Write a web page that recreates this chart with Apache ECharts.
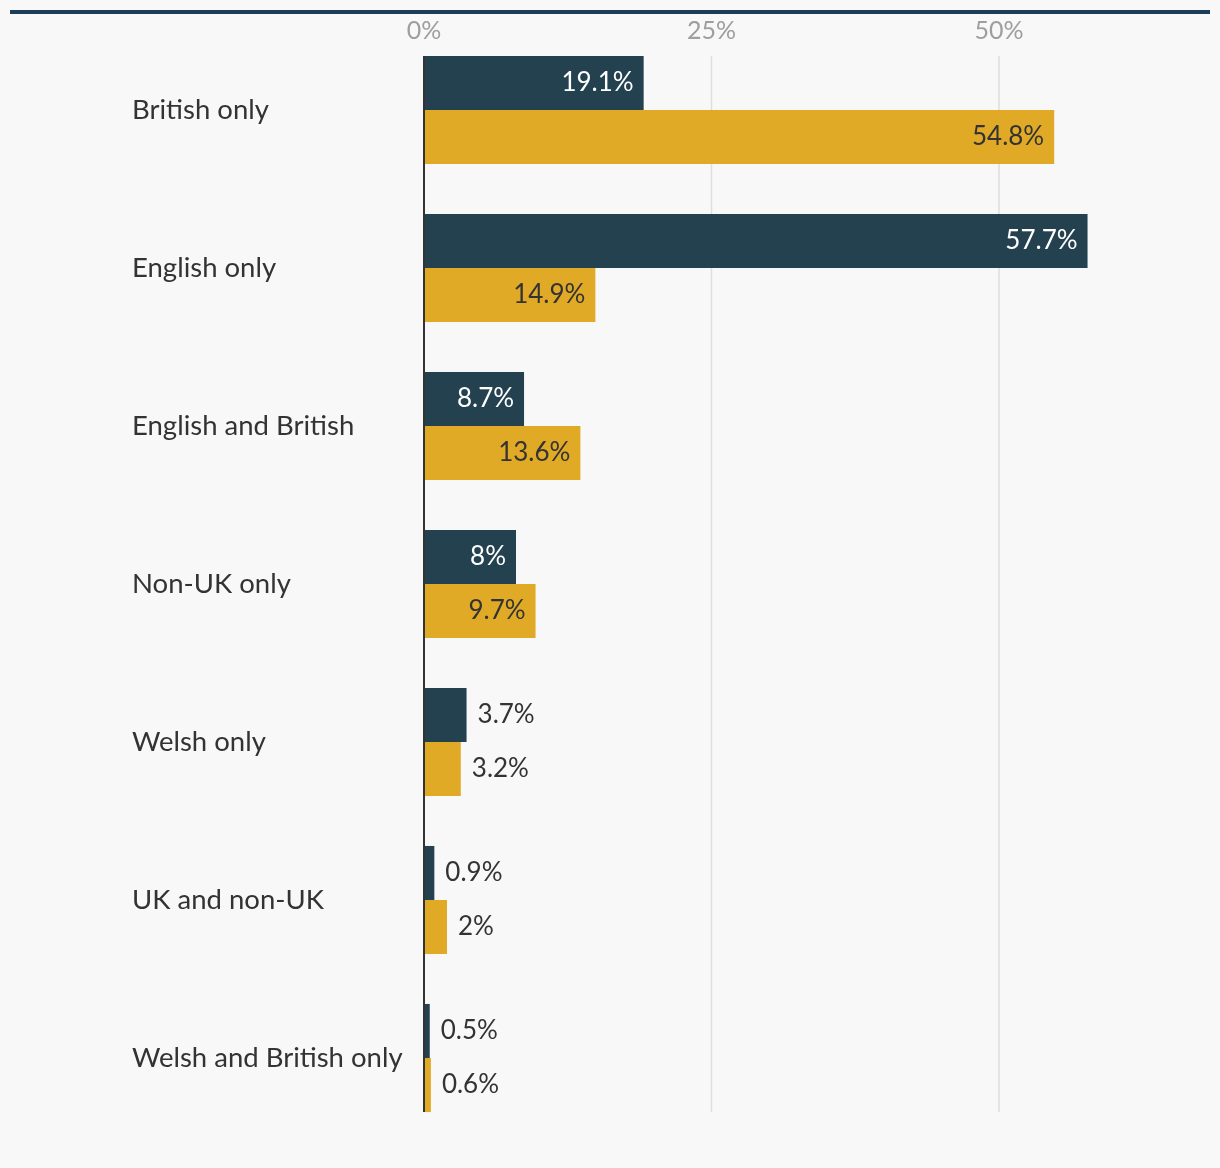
<!DOCTYPE html>
<html><head><meta charset="utf-8">
<script src="https://cdn.jsdelivr.net/npm/echarts@6/dist/echarts.min.js"></script>
<style>html,body{margin:0;padding:0;background:#f8f8f8}#c{width:1220px;height:1168px}</style>
</head><body><div id="c"></div>
<script>
const categories = ["British only","English only","English and British","Non-UK only","Welsh only","UK and non-UK","Welsh and British only"];
const seriesA = [19.1, 57.7, 8.7, 8, 3.7, 0.9, 0.5];
const seriesB = [54.8, 14.9, 13.6, 9.7, 3.2, 2, 0.6];
const xTicks = [0, 25, 50];
const xMax = 65;

const FONT = 'Lato';
const DARK = '#244150';
const GOLD = '#e0aa27';
const CAT_GAP = 0.316;

function labelFor(v, insideColor) {
  const inside = v >= 8;
  return {
    show: true,
    position: inside ? 'insideRight' : 'right',
    distance: inside ? 10 : 11,
    color: inside ? insideColor : '#333',
    fontSize: 26,
    fontFamily: FONT,
    padding: [4, 0, 0, 0],
    formatter: (p) => p.value + '%'
  };
}

function lineRenderer(isAxis) {
  return function (params, api) {
    const t = api.value(0);
    const x = api.coord([t, 0])[0];
    const band = api.size([0, 1])[1];
    const half = band * (1 - CAT_GAP) / 2;
    const y0 = api.coord([t, 0])[1] - half;
    const y1 = api.coord([t, categories.length - 1])[1] + half;
    if (isAxis && t !== 0) return null;
    if (!isAxis && t === 0) return null;
    return {
      type: 'line',
      shape: { x1: x, y1: y0, x2: x, y2: y1 },
      style: { stroke: isAxis ? '#333' : '#dedede', lineWidth: isAxis ? 2 : 1.5 }
    };
  };
}

const chart = echarts.init(document.getElementById('c'));
chart.setOption({
  backgroundColor: '#f8f8f8',
  animation: false,
  graphic: [{
    type: 'rect', left: 10, top: 10,
    shape: { width: 1200, height: 4 },
    style: { fill: '#1e3d59' }
  }],
  grid: { left: 424, width: xMax * 11.5, top: 31, bottom: 31, containLabel: false },
  xAxis: {
    type: 'value', position: 'top', min: 0, max: xMax, interval: 25,
    axisLine: { show: false }, axisTick: { show: false }, splitLine: { show: false },
    axisLabel: {
      showMaxLabel: false, margin: 0, verticalAlign: 'middle',
      color: '#9e9e9e', fontSize: 25, fontFamily: FONT,
      padding: [3, 0, 0, 0],
      formatter: (v) => xTicks.includes(v) ? v + '%' : ''
    }
  },
  yAxis: {
    type: 'category', data: categories, inverse: true,
    axisLine: { show: false }, axisTick: { show: false },
    axisLabel: { align: 'left', margin: 292, color: '#333', fontSize: 27.5, fontFamily: FONT, padding: [3, 0, 0, 0] }
  },
  series: [
    { type: 'custom', z: 1, renderItem: lineRenderer(false), data: xTicks.map(t => [t, 0]), encode: { x: 0, y: 1 }, silent: true },
    {
      type: 'bar', name: 'A', z: 2, barGap: '0%', barCategoryGap: (CAT_GAP * 100) + '%',
      itemStyle: { color: DARK },
      data: seriesA.map(v => ({ value: v, label: labelFor(v, '#fff') }))
    },
    {
      type: 'bar', name: 'B', z: 2, barGap: '0%', barCategoryGap: (CAT_GAP * 100) + '%',
      itemStyle: { color: GOLD },
      data: seriesB.map(v => ({ value: v, label: labelFor(v, '#333') }))
    },
    { type: 'custom', z: 5, renderItem: lineRenderer(true), data: xTicks.map(t => [t, 0]), encode: { x: 0, y: 1 }, silent: true }
  ]
});
</script></body></html>
